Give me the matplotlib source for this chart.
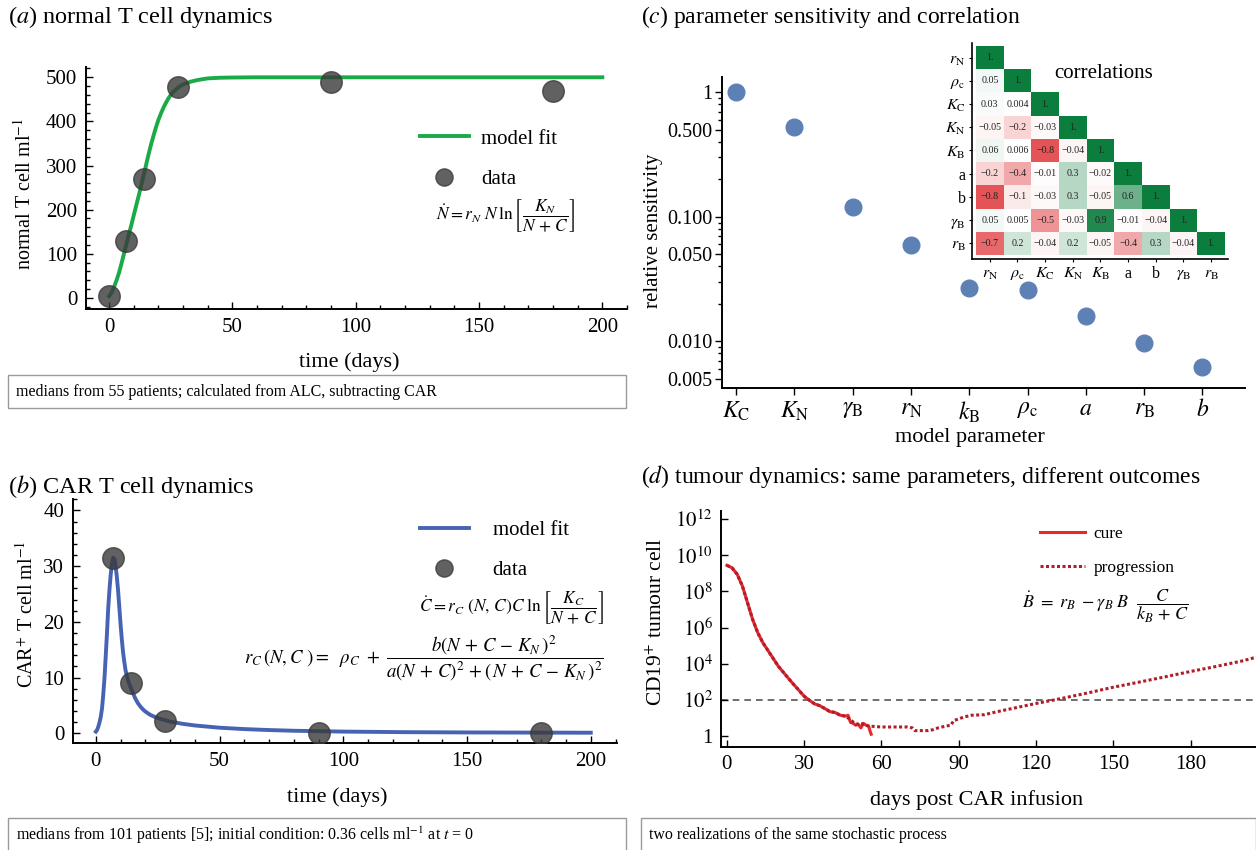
import numpy as np
import matplotlib
matplotlib.use("Agg")
import matplotlib.pyplot as plt
from matplotlib.patches import Rectangle
from matplotlib.colors import LinearSegmentedColormap
from matplotlib.ticker import MultipleLocator, FixedLocator, NullFormatter, LogLocator

plt.rcParams['font.family'] = ['Liberation Serif', 'DejaVu Serif']
plt.rcParams['mathtext.fontset'] = 'stix'

# ---- data (a) normal T cells
a_days = [0, 7, 14, 28, 90, 180]
a_cells = [5, 128, 270, 478, 490, 470]
a_fit_t = [0, 1, 2, 3, 4, 5, 6, 7, 8, 9, 10, 11, 12, 13, 14, 15, 16, 17, 18, 19, 20,
           21, 22, 23, 24, 25, 26, 28, 30, 33, 36, 40, 45, 50, 60, 100, 150, 200]
a_fit_v = [4, 12, 25, 40, 57, 78, 100, 122, 145, 165, 188, 210, 232, 255, 278, 302, 326,
           348, 368, 387, 404, 418, 431, 442, 452, 460, 467, 477, 484, 490, 494, 497.5,
           499, 499.5, 500, 500, 500, 500]

# ---- data (b) CAR T cells
b_days = [7, 14, 28, 90, 180]
b_cells = [31.5, 9.0, 2.2, 0.1, 0.1]
b_fit_t = [0, 0.5, 1, 1.5, 2, 2.5, 3, 3.5, 4, 4.5, 5, 5.5, 6, 6.5, 7, 7.5, 8, 8.5, 9,
           9.5, 10, 10.5, 11, 11.5, 12, 13, 14, 15, 16, 17, 18, 19, 20, 22, 24, 26, 28,
           30, 35, 40, 50, 60, 70, 80, 100, 125, 150, 200]
b_fit_v = [0.3, 0.6, 1.2, 2.0, 3.0, 4.5, 7.0, 10.0, 14.0, 18.0, 22.5, 25.8, 28.5, 30.5,
           31.5, 31.3, 30.0, 28.0, 25.5, 22.5, 19.5, 16.8, 14.5, 12.8, 11.3, 9.5, 8.3,
           7.2, 6.2, 5.4, 4.8, 4.3, 3.9, 3.3, 2.9, 2.6, 2.35, 2.1, 1.7, 1.4, 1.0, 0.75,
           0.58, 0.45, 0.3, 0.2, 0.15, 0.1]

# ---- data (c) sensitivity + correlations
params = [r'$K_{\rm C}$', r'$K_{\rm N}$', r'$\gamma_{\rm B}$', r'$r_{\rm N}$', r'$k_{\rm B}$',
          r'$\rho_{\rm c}$', r'$a$', r'$r_{\rm B}$', r'$b$']
sensitivity = [1.0, 0.526, 0.12, 0.059, 0.027, 0.026, 0.016, 0.0097, 0.0062]

corr_labels = [r'$r_{\rm N}$', r'$\rho_{\rm c}$', r'$K_{\rm C}$', r'$K_{\rm N}$', r'$K_{\rm B}$',
               'a', 'b', r'$\gamma_{\rm B}$', r'$r_{\rm B}$']
corr_rows = [
    [1.0],
    [0.05, 1.0],
    [0.03, 0.004, 1.0],
    [-0.05, -0.2, -0.03, 1.0],
    [0.06, 0.006, -0.8, -0.04, 1.0],
    [-0.2, -0.4, -0.01, 0.3, -0.02, 1.0],
    [-0.8, -0.1, -0.03, 0.3, -0.05, 0.6, 1.0],
    [0.05, 0.005, -0.5, -0.03, 0.9, -0.01, -0.04, 1.0],
    [-0.7, 0.2, -0.04, 0.2, -0.05, -0.4, 0.3, -0.04, 1.0],
]
corr_text = [
    ['1.'],
    ['0.05', '1.'],
    ['0.03', '0.004', '1.'],
    ['\u22120.05', '\u22120.2', '\u22120.03', '1.'],
    ['0.06', '0.006', '\u22120.8', '\u22120.04', '1.'],
    ['\u22120.2', '\u22120.4', '\u22120.01', '0.3', '\u22120.02', '1.'],
    ['\u22120.8', '\u22120.1', '\u22120.03', '0.3', '\u22120.05', '0.6', '1.'],
    ['0.05', '0.005', '\u22120.5', '\u22120.03', '0.9', '\u22120.01', '\u22120.04', '1.'],
    ['\u22120.7', '0.2', '\u22120.04', '0.2', '\u22120.05', '\u22120.4', '0.3', '\u22120.04', '1.'],
]

# ---- data (d) tumour, log10 of cell count
cure_t = [0, 2, 4, 6, 8, 10, 12, 14, 17, 20, 25, 30, 32, 34, 36, 38, 40, 42, 44, 46, 47,
          48, 49, 50, 51, 52, 53, 54, 55, 55.5, 56]
cure_log = [9.44, 9.3, 8.94, 8.3, 7.37, 6.44, 5.7, 5.15, 4.5, 3.85, 3.0, 2.2, 1.98, 1.78,
            1.68, 1.52, 1.35, 1.3, 1.15, 1.1, 1.15, 0.75, 0.7, 0.6, 0.65, 0.45, 0.7, 0.6,
            0.55, 0.3, 0.1]
prog_t = [0, 2, 4, 6, 8, 10, 12, 14, 17, 20, 25, 30, 32, 34, 36, 38, 40, 42, 44, 46, 48,
          50, 52, 55, 60, 65, 70, 72, 73, 75, 78, 80, 82, 85, 87, 88, 90, 92, 95, 100, 102,
          105, 110, 115, 120, 130, 140, 150, 160, 170, 180, 190, 200, 206]
prog_log = [9.44, 9.3, 8.94, 8.3, 7.37, 6.44, 5.7, 5.15, 4.5, 3.85, 3.0, 2.2, 1.98, 1.78,
            1.68, 1.52, 1.35, 1.3, 1.15, 1.1, 0.9, 0.65, 0.7, 0.55, 0.5, 0.5, 0.5, 0.45, 0.3,
            0.3, 0.3, 0.35, 0.45, 0.55, 0.6, 0.85, 0.95, 1.05, 1.15, 1.18, 1.25, 1.35, 1.5,
            1.65, 1.8, 2.08, 2.38, 2.7, 2.98, 3.27, 3.57, 3.85, 4.15, 4.38]
threshold = 100

W, H = 1256, 850
fig = plt.figure(figsize=(W / 100, H / 100), dpi=100)


def px_axes(l, t, r, b):
    return fig.add_axes([l / W, 1 - b / H, (r - l) / W, (b - t) / H])


def frame(ax, direction='in'):
    for s in ['top', 'right']:
        ax.spines[s].set_visible(False)
    for s in ['left', 'bottom']:
        ax.spines[s].set_linewidth(1.4)
    ax.tick_params(which='both', direction=direction, labelsize=15, width=1.0)
    ax.tick_params(which='major', length=5, pad=6)
    ax.tick_params(which='minor', length=3)


def caption(l, t, r, b, text):
    fig.patches.append(Rectangle((l / W, 1 - b / H), (r - l) / W, (b - t) / H,
                                 transform=fig.transFigure, fill=False,
                                 edgecolor='#9a9a9a', lw=1.0))
    fig.text((l + 8) / W, 1 - (t + 17) / H, text, fontsize=11.5, va='center', ha='left')


dot_kw = dict(marker='o', ls='none', color='#3a3a3a', alpha=0.8, ms=15.5, zorder=3)

# ---------- (a)
ax = px_axes(85.5, 66.7, 627, 309.3)
frame(ax)
ax.plot(a_fit_t, a_fit_v, color='#1aaa47', lw=2.8, label='model fit', zorder=2)
ax.plot(a_days, a_cells, label='data', **dot_kw)
ax.set_xlim(-9.6, 210)
ax.set_ylim(-26, 524)
ax.xaxis.set_major_locator(MultipleLocator(50))
ax.xaxis.set_minor_locator(MultipleLocator(10))
ax.yaxis.set_major_locator(MultipleLocator(100))
ax.yaxis.set_minor_locator(MultipleLocator(20))
ax.set_xlabel('time (days)', fontsize=16)
ax.xaxis.set_label_coords(0.487, -0.176)
ax.set_ylabel('normal T cell ml$^{-1}$', fontsize=14.5)
ax.yaxis.set_label_coords(-0.092, 0.475)
ax.legend(frameon=False, fontsize=15, loc='upper left', bbox_to_anchor=(0.583, 0.82),
          handlelength=2.35, labelspacing=1.0, handletextpad=0.6, markerscale=0.8)
ax.text(0.775, 0.385, r'$\dot{N} = r_N\ N\,\ln\left[\dfrac{K_N}{N\,+\,C}\right]$',
        transform=ax.transAxes, fontsize=12.5, ha='center', va='center')
fig.text(8 / W, 1 - 17 / H, '($a$) normal T cell dynamics', fontsize=17.5, va='center')
caption(8, 375, 626, 408, 'medians from 55 patients; calculated from ALC, subtracting CAR')

# ---------- (b)
ax = px_axes(72.6, 499.3, 617, 743.3)
frame(ax)
ax.plot(b_fit_t, b_fit_v, color='#4763b3', lw=2.8, label='model fit', zorder=2)
ax.plot(b_days, b_cells, label='data', **dot_kw)
ax.set_xlim(-9.4, 210.6)
ax.set_ylim(-1.8, 42)
ax.xaxis.set_major_locator(MultipleLocator(50))
ax.xaxis.set_minor_locator(MultipleLocator(10))
ax.yaxis.set_major_locator(MultipleLocator(10))
ax.yaxis.set_minor_locator(MultipleLocator(2))
ax.set_xlabel('time (days)', fontsize=16)
ax.xaxis.set_label_coords(0.487, -0.18)
ax.set_ylabel('CAR$^{+}$ T cell ml$^{-1}$', fontsize=14.5)
ax.yaxis.set_label_coords(-0.065, 0.53)
ax.legend(frameon=False, fontsize=15, loc='upper left', bbox_to_anchor=(0.603, 0.99),
          handlelength=2.35, labelspacing=1.0, handletextpad=1.15, markerscale=0.8)
ax.text(0.975, 0.555, r'$\dot{C} = r_C\ (N,\,C)C\ \ln\left[\dfrac{K_C}{N\,+\,C}\right]$',
        transform=ax.transAxes, fontsize=12.5, ha='right', va='center')
ax.text(0.975, 0.35,
        r'$r_C\,(N,C\ ) =\ \ \rho_C\ +\ \dfrac{b(N\,+\,C\,-\,K_N\,)^2}{a(N\,+\,C)^2\,+(\,N\,+\,C\,-\,K_N\,)^2}$',
        transform=ax.transAxes, fontsize=13.5, ha='right', va='center')
fig.text(8 / W, 1 - 486 / H, '($b$) CAR T cell dynamics', fontsize=17.5, va='center')
caption(8, 818, 626, 851, 'medians from 101 patients [5]; initial condition: 0.36 cells ml$^{-1}$ at $t$ = 0')

# ---------- (c)
ax = px_axes(722, 76.7, 1245, 388.3)
frame(ax, direction='out')
xpos = np.arange(len(params))
ax.plot(xpos, sensitivity, 'o', color='#5e81b5', ms=12)
ax.set_yscale('log')
ax.set_ylim(0.0042, 1.335)
ax.set_xlim(-0.24, 8.73)
ax.set_xticks(xpos)
ax.set_xticklabels(params, fontsize=17)
ax.yaxis.set_major_locator(FixedLocator([0.005, 0.01, 0.05, 0.1, 0.5, 1]))
ax.set_yticklabels(['0.005', '0.010', '0.050', '0.100', '0.500', '1'])
ax.yaxis.set_minor_locator(LogLocator(base=10, subs=np.arange(2, 10)))
ax.yaxis.set_minor_formatter(NullFormatter())
ax.tick_params(axis='x', which='major', length=5, pad=3)
ax.tick_params(axis='y', which='major', length=5, pad=2, labelsize=14.5)
ax.set_xlabel('model parameter', fontsize=16)
ax.xaxis.set_label_coords(0.474, -0.128)
ax.set_ylabel('relative sensitivity', fontsize=15)
ax.yaxis.set_label_coords(-0.113, 0.505)
fig.text(641 / W, 1 - 17 / H, '($c$) parameter sensitivity and correlation', fontsize=17, va='center')

# inset correlation matrix
n = len(corr_labels)
mat = np.full((n, n), np.nan)
for i, row in enumerate(corr_rows):
    mat[i, :len(row)] = row
cmap = LinearSegmentedColormap.from_list('rg', ['#de2a2e', '#ffffff', '#0b7d3d'])
cmap.set_bad('white')
ins = px_axes(971.7, 43, 1228, 259.3)
ins.imshow(np.ma.masked_invalid(mat), cmap=cmap, vmin=-1, vmax=1, aspect='auto',
           interpolation='nearest')
for i, row in enumerate(corr_text):
    for j, s in enumerate(row):
        ins.text(j, i, s, ha='center', va='center', fontsize=7.2, color='#222222')
ins.set_xlim(-0.655, 8.61)
ins.set_ylim(8.69, -0.63)
for s in ['top', 'right']:
    ins.spines[s].set_visible(False)
ins.spines['left'].set_linewidth(1.2)
ins.spines['bottom'].set_linewidth(1.2)
ins.set_xticks(range(n))
ins.set_yticks(range(n))
ins.set_xticklabels(corr_labels, fontsize=11.5)
ins.set_yticklabels(corr_labels, fontsize=11.5)
ins.tick_params(direction='out', length=2.5, pad=2)
ins.text(4.1, 0.7, 'correlations', fontsize=15, ha='center', va='center')

# ---------- (d)
ax = px_axes(721, 510.7, 1256, 746.7)
frame(ax)
ax.plot(cure_t, np.power(10.0, cure_log), color='#e8262b', lw=2.2, label='cure', zorder=3)
ax.plot(prog_t, np.power(10.0, prog_log), color='#b01e2c', lw=2.2, ls=(0, (1, 0.8)),
        label='progression', zorder=4)
ax.axhline(threshold, color='#555555', lw=1.2, ls=(0, (4, 3)), zorder=1)
ax.set_yscale('log')
ax.set_ylim(10 ** -0.59, 10 ** 12.46)
ax.set_xlim(-2.3, 205.4)
ax.xaxis.set_major_locator(MultipleLocator(30))
ax.yaxis.set_major_locator(FixedLocator([10.0 ** k for k in range(0, 13, 2)]))
ax.set_yticklabels(['1'] + [r'$10^{%d}$' % k for k in range(2, 13, 2)])
ax.yaxis.set_minor_locator(FixedLocator([]))
ax.set_xlabel('days post CAR infusion', fontsize=16)
ax.xaxis.set_label_coords(0.478, -0.183)
ax.set_ylabel('CD19$^{+}$ tumour cell', fontsize=15.5)
ax.yaxis.set_label_coords(-0.100, 0.528)
ax.legend(frameon=False, fontsize=12.5, loc='upper left', bbox_to_anchor=(0.567, 1.0),
          handlelength=2.6, labelspacing=1.0, handletextpad=0.5)
ax.text(0.563, 0.595, r'$\dot{B}\ =\ r_B\ -\gamma_B\ B\ \ \dfrac{C}{k_B\,+\,C}$',
        transform=ax.transAxes, fontsize=13, ha='left', va='center')
fig.text(641 / W, 1 - 476 / H, '($d$) tumour dynamics: same parameters, different outcomes',
         fontsize=17, va='center')
caption(641, 818, 1256, 851, 'two realizations of the same stochastic process')

fig.savefig('out.png', dpi=100)
